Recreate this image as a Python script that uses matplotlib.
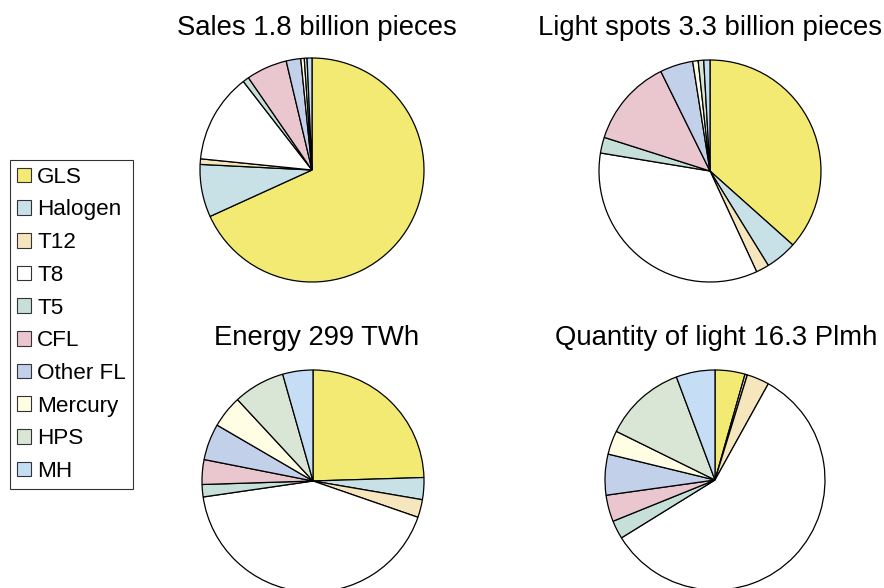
import matplotlib.pyplot as plt
from matplotlib.patches import Patch

plt.rcParams['font.family'] = ['Liberation Sans', 'DejaVu Sans']

categorias = ['GLS', 'Halogen', 'T12', 'T8', 'T5', 'CFL', 'Other FL', 'Mercury', 'HPS', 'MH']
colores = ['#F2EA72', '#C8E1E6', '#F5E6BE', '#FFFFFF', '#C6DFD8',
           '#EAC6CF', '#C3D0EA', '#FFFDE3', '#D9E6D6', '#C6DEF5']

# porcentajes
ventas = [68.2, 7.6, 0.8, 12.9, 0.9, 5.9, 2.1, 0.5, 0.4, 0.7]
puntos_luz = [36.6, 4.6, 1.9, 34.5, 2.3, 12.8, 4.8, 0.8, 0.8, 0.9]
energia = [24.5, 3.2, 2.6, 42.4, 1.8, 3.6, 5.3, 4.7, 7.5, 4.4]
cantidad_luz = [4.4, 0.35, 3.3, 58.1, 2.7, 3.9, 6.0, 3.5, 12.0, 5.7]

titulos = ['Sales 1.8 billion pieces', 'Light spots 3.3 billion pieces',
           'Energy 299 TWh', 'Quantity of light 16.3 Plmh']
series = [ventas, puntos_luz, energia, cantidad_luz]

W, H = 884, 588
fig = plt.figure(figsize=(W / 100, H / 100), dpi=100)

# centro (px) y radio de cada torta
centros = [(312, 170, 112), (710, 171, 111), (313, 481, 111), (715, 480, 110)]
pos_titulo = [(317, 28), (710, 28), (317, 338), (716, 338)]

for datos, titulo, (cx, cy, r), (tx, ty) in zip(series, titulos, centros, pos_titulo):
    ax = fig.add_axes([(cx - r) / W, (H - cy - r) / H, 2 * r / W, 2 * r / H])
    ax.pie(datos, colors=colores, startangle=90, counterclock=False,
           wedgeprops=dict(edgecolor='black', linewidth=0.9))
    ax.set_xlim(-1, 1)
    ax.set_ylim(-1, 1)
    ax.set_aspect('auto')
    ax.axis('off')
    fig.text(tx / W, 1 - ty / H, titulo, ha='center', va='center', fontsize=19.8)

handles = [Patch(facecolor=c, edgecolor='#333333', linewidth=0.8) for c in colores]
leg = fig.legend(handles, categorias, loc='upper left',
                 bbox_to_anchor=(10 / W, 1 - 160 / H), borderaxespad=0,
                 fontsize=16.2, frameon=True, fancybox=False,
                 handlelength=0.62, handleheight=0.62, handletextpad=0.28,
                 labelspacing=0.52, borderpad=0.3)
leg.get_frame().set_edgecolor('black')
leg.get_frame().set_linewidth(0.8)

fig.savefig('out.png', dpi=100)
